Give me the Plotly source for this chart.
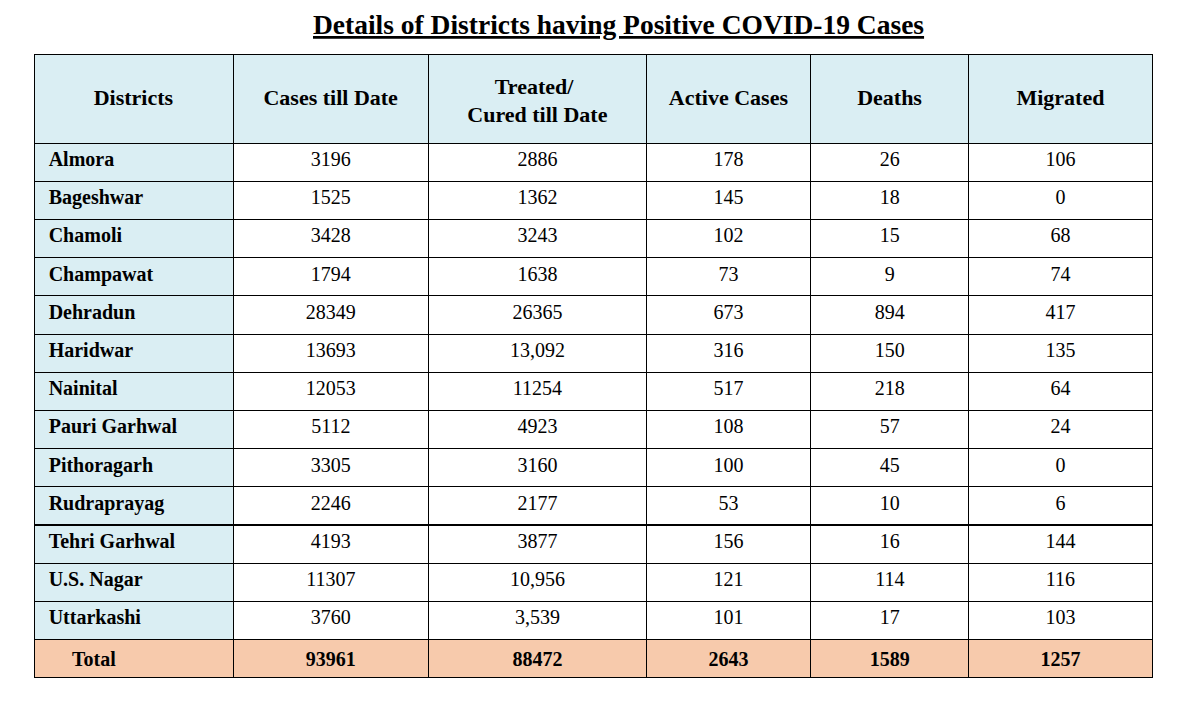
import plotly.graph_objects as go

title = "Details of Districts having Positive COVID-19 Cases"
columns = ["Districts", "Cases till Date", "Treated/<br>Cured till Date",
           "Active Cases", "Deaths", "Migrated"]

districts = ["Almora", "Bageshwar", "Chamoli", "Champawat", "Dehradun", "Haridwar",
             "Nainital", "Pauri Garhwal", "Pithoragarh", "Rudraprayag",
             "Tehri Garhwal", "U.S. Nagar", "Uttarkashi"]
cases = ["3196", "1525", "3428", "1794", "28349", "13693", "12053", "5112",
         "3305", "2246", "4193", "11307", "3760"]
treated = ["2886", "1362", "3243", "1638", "26365", "13,092", "11254", "4923",
           "3160", "2177", "3877", "10,956", "3,539"]
active = ["178", "145", "102", "73", "673", "316", "517", "108", "100", "53",
          "156", "121", "101"]
deaths = ["26", "18", "15", "9", "894", "150", "218", "57", "45", "10", "16",
          "114", "17"]
migrated = ["106", "0", "68", "74", "417", "135", "64", "24", "0", "6", "144",
            "116", "103"]
totals = ["Total", "93961", "88472", "2643", "1589", "1257"]

FONT = "Liberation Serif, Times New Roman, serif"
BLUE = "#DAEEF3"
PEACH = "#F7CAAC"
W, H = 1181, 703
OFF = 8  # page body margin

nb = "\u00a0"


def spacer(px):
    # blank first line, used to push header text down to the middle of the cell
    return "<span style='font-size:%dpx'>%s</span><br>" % (px, nb)


headers = []
for c in columns:
    if "<br>" in c:
        top, bottom = c.split("<br>")
        headers.append(spacer(3) + nb * 5 + top + "<br>" + bottom)
    else:
        headers.append(spacer(16) + c)

col_district = [nb + "\u200a" + d for d in districts] + [nb * 6 + "<b>%s</b>" % totals[0]]
body = [cases, treated, active, deaths, migrated]
cols = [col_district] + [v + ["<b>%s</b>" % t] for v, t in zip(body, totals[1:])]

n = len(districts)
fills = [[BLUE] * n + [PEACH]] + [["white"] * n + [PEACH] for _ in body]

fig = go.Figure(go.Table(
    domain=dict(x=[(34 - OFF) / W, (1152 - OFF) / W], y=[0, 1 - (54 - OFF) / H]),
    columnwidth=[199, 195, 218, 164, 158, 183],
    header=dict(
        values=headers,
        fill_color=BLUE,
        line=dict(color="black", width=1),
        align="center",
        font=dict(family=FONT, size=22, color="black", weight="bold"),
        height=89,
    ),
    cells=dict(
        values=cols,
        fill_color=fills,
        line=dict(color="black", width=1),
        align=["left", "center", "center", "center", "center", "center"],
        font=dict(family=FONT, size=20, color="black",
                  weight=[700, 400, 400, 400, 400, 400]),
        height=38.2,
    ),
))

fig.update_layout(
    width=W, height=H,
    margin=dict(l=0, r=0, t=0, b=0),
    paper_bgcolor="white",
    annotations=[dict(
        text=title, x=(618 - OFF) / W, y=1,
        xref="paper", yref="paper", showarrow=False,
        xanchor="center", yanchor="top", borderpad=0,
        font=dict(family=FONT, size=27.5, color="black", weight="bold",
                  lineposition="under"),
    )],
)

fig.write_html("out.html")
